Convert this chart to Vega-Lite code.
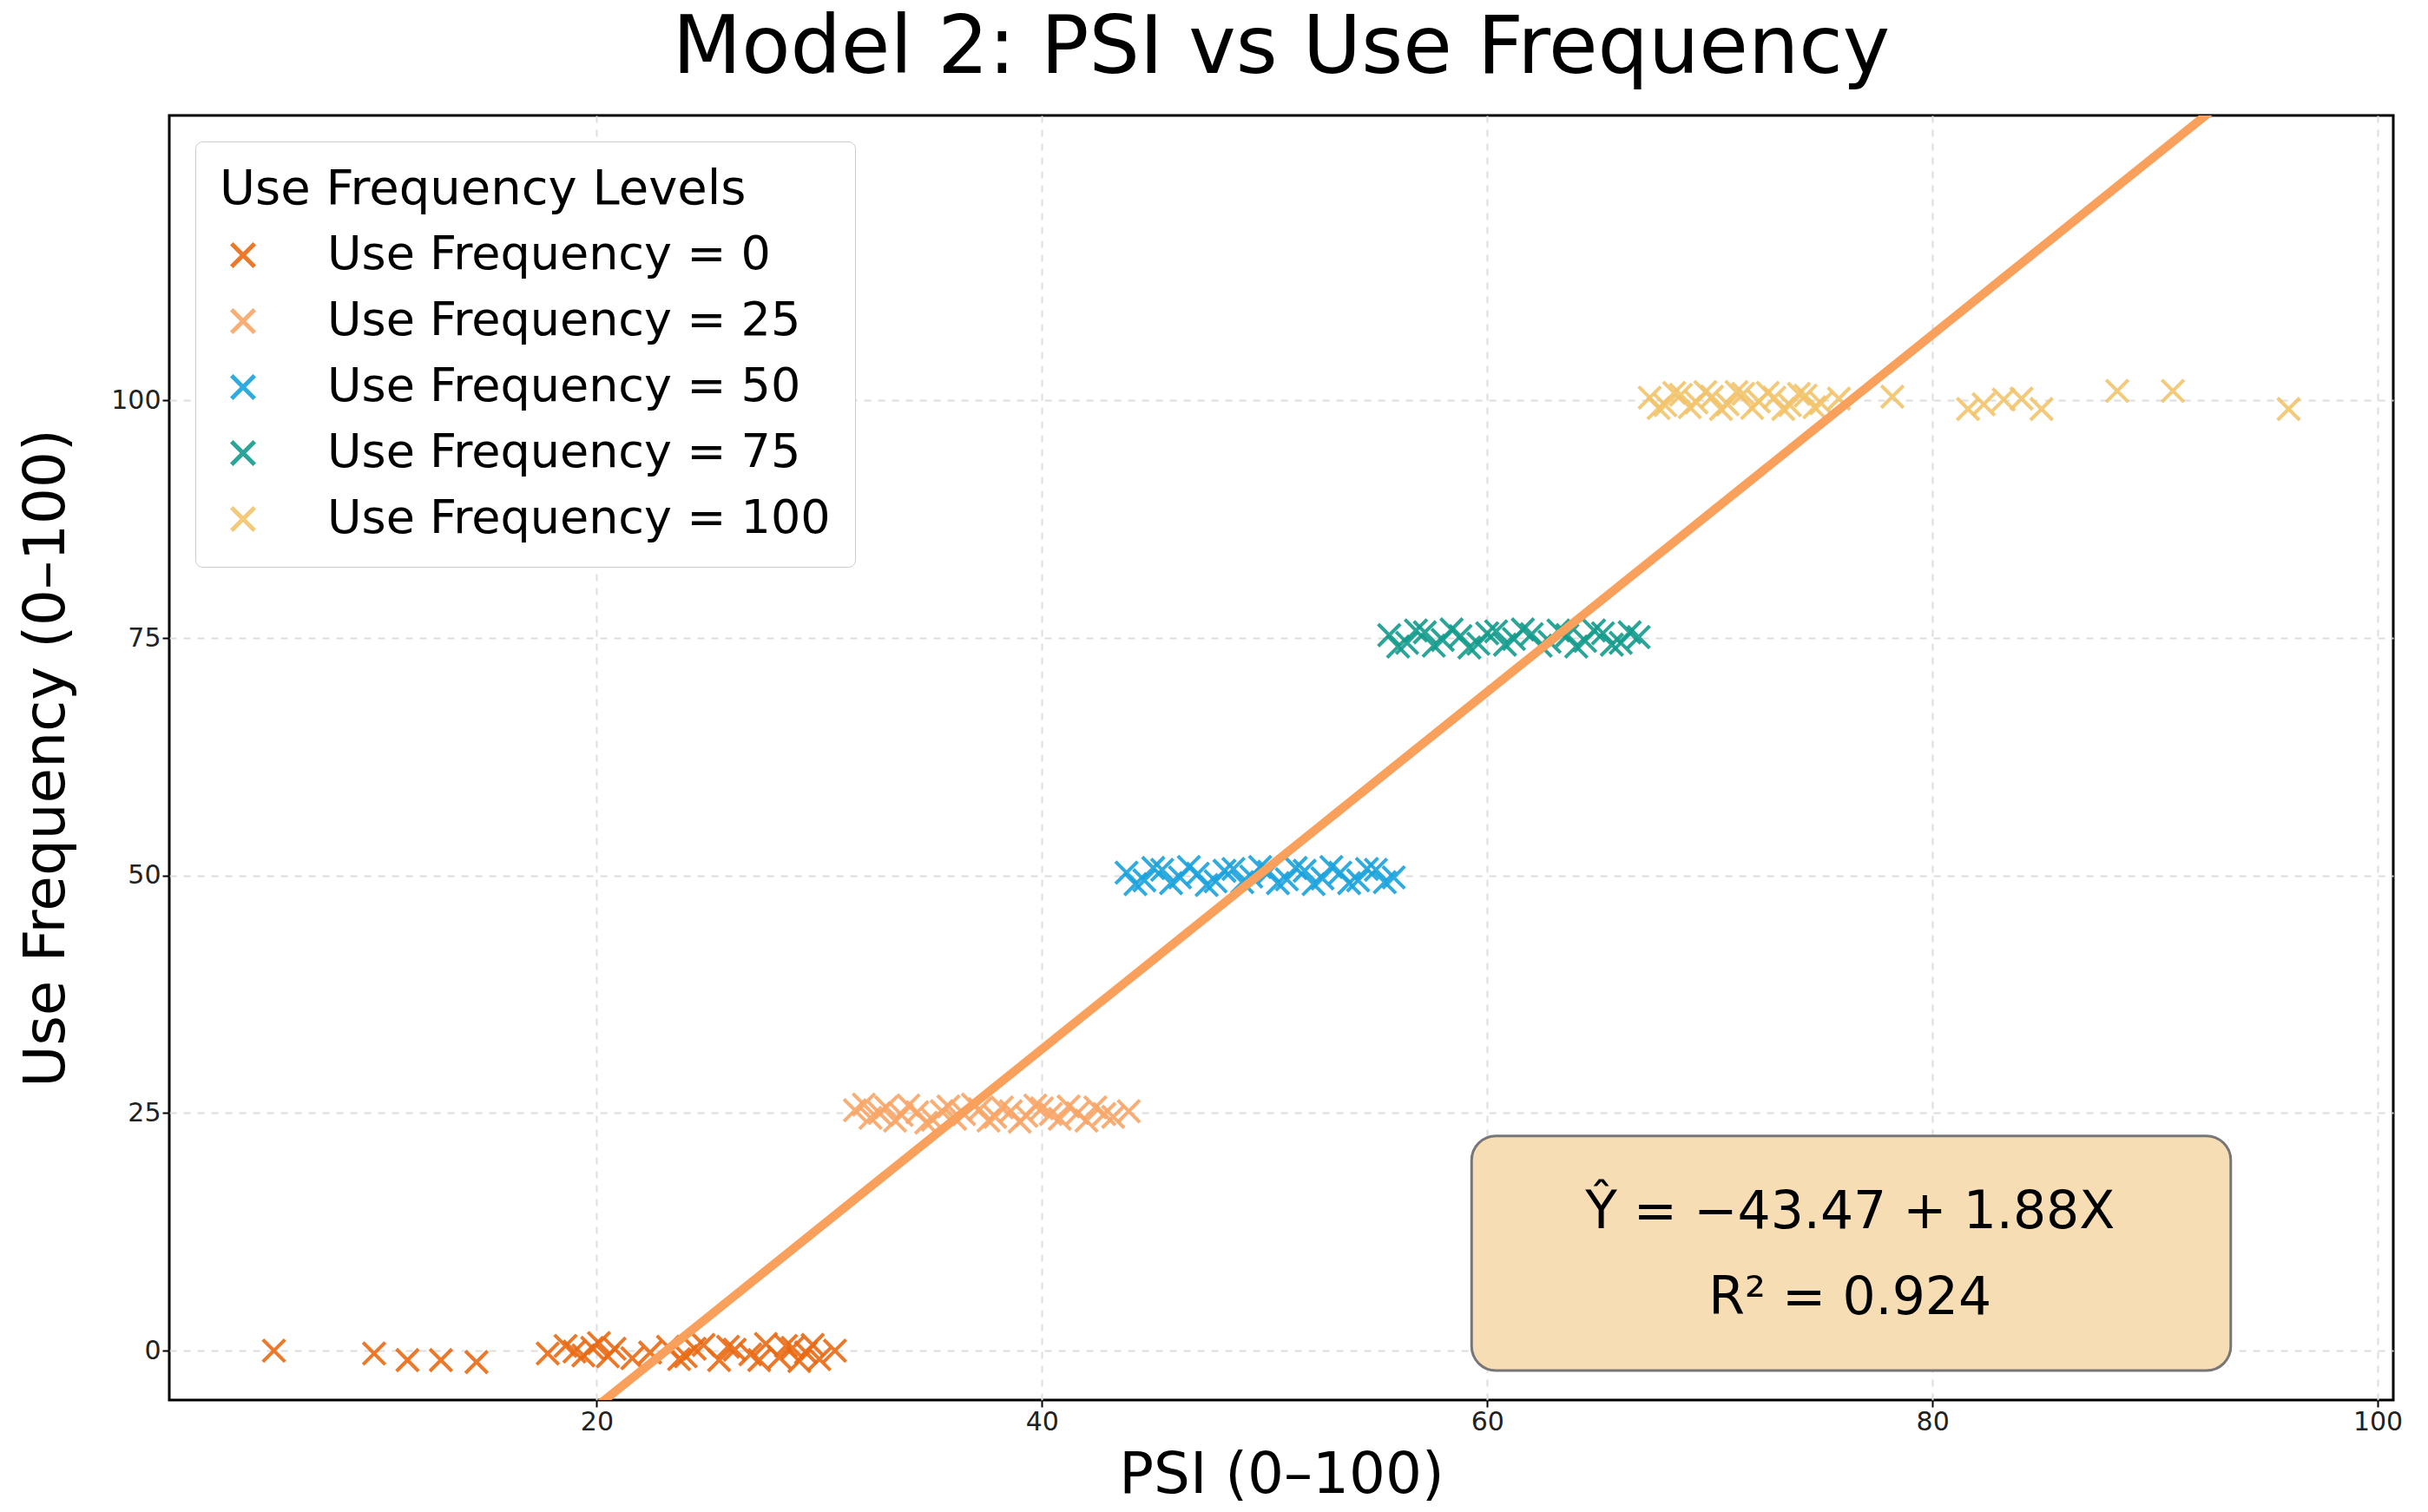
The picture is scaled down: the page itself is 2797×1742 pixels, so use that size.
{
  "$schema": "https://vega.github.io/schema/vega-lite/v6.json",
  "autosize": {"type": "fit", "contains": "padding"},
  "width": 2797,
  "height": 1742,
  "padding": {"left": 20, "right": 30, "top": 10, "bottom": 10},
  "background": "white",
  "title": {"text": "Model 2: PSI vs Use Frequency", "fontSize": 92, "font": "DejaVu Sans", "fontWeight": "normal", "color": "black", "offset": 30},
  "config": {
    "view": {"stroke": "black", "strokeWidth": 3},
    "axis": {"labelFont": "DejaVu Sans", "titleFont": "DejaVu Sans", "labelFontSize": 30, "titleFontSize": 66, "titleFontWeight": "normal", "labelColor": "#222", "titleColor": "black", "gridDash": [8, 8], "gridColor": "#dddddd", "gridWidth": 2, "domain": false, "tickColor": "black", "tickSize": 8, "tickWidth": 2}
  },
  "data": {"values": [
    {"psi": 5.5, "uf": 0, "g": "Use Frequency = 0"},
    {"psi": 10, "uf": -0.3, "g": "Use Frequency = 0"},
    {"psi": 11.5, "uf": -1, "g": "Use Frequency = 0"},
    {"psi": 13, "uf": -1, "g": "Use Frequency = 0"},
    {"psi": 14.6, "uf": -1.2, "g": "Use Frequency = 0"},
    {"psi": 17.8, "uf": -0.3, "g": "Use Frequency = 0"},
    {"psi": 18.6, "uf": 0.5, "g": "Use Frequency = 0"},
    {"psi": 19.0, "uf": -0.1, "g": "Use Frequency = 0"},
    {"psi": 19.4, "uf": -0.5, "g": "Use Frequency = 0"},
    {"psi": 19.8, "uf": 0.3, "g": "Use Frequency = 0"},
    {"psi": 20.1, "uf": 0.8, "g": "Use Frequency = 0"},
    {"psi": 20.5, "uf": -0.6, "g": "Use Frequency = 0"},
    {"psi": 20.8, "uf": 0.2, "g": "Use Frequency = 0"},
    {"psi": 21.6, "uf": -0.8, "g": "Use Frequency = 0"},
    {"psi": 22.4, "uf": -0.2, "g": "Use Frequency = 0"},
    {"psi": 23.2, "uf": 0.4, "g": "Use Frequency = 0"},
    {"psi": 23.7, "uf": -0.9, "g": "Use Frequency = 0"},
    {"psi": 24.0, "uf": -0.6, "g": "Use Frequency = 0"},
    {"psi": 24.4, "uf": 0.2, "g": "Use Frequency = 0"},
    {"psi": 24.8, "uf": 0.6, "g": "Use Frequency = 0"},
    {"psi": 25.5, "uf": -1, "g": "Use Frequency = 0"},
    {"psi": 25.9, "uf": 0.4, "g": "Use Frequency = 0"},
    {"psi": 26.2, "uf": 0.1, "g": "Use Frequency = 0"},
    {"psi": 26.9, "uf": -0.4, "g": "Use Frequency = 0"},
    {"psi": 27.3, "uf": -1, "g": "Use Frequency = 0"},
    {"psi": 27.6, "uf": 0.7, "g": "Use Frequency = 0"},
    {"psi": 28.2, "uf": -0.7, "g": "Use Frequency = 0"},
    {"psi": 28.5, "uf": 0.5, "g": "Use Frequency = 0"},
    {"psi": 28.8, "uf": 0.3, "g": "Use Frequency = 0"},
    {"psi": 29.1, "uf": -1.1, "g": "Use Frequency = 0"},
    {"psi": 29.4, "uf": -0.2, "g": "Use Frequency = 0"},
    {"psi": 29.7, "uf": 0.6, "g": "Use Frequency = 0"},
    {"psi": 30.0, "uf": -0.9, "g": "Use Frequency = 0"},
    {"psi": 30.7, "uf": 0, "g": "Use Frequency = 0"},
    {"psi": 31.6, "uf": 25.3, "g": "Use Frequency = 25"},
    {"psi": 32.0, "uf": 25.9, "g": "Use Frequency = 25"},
    {"psi": 32.3, "uf": 24.5, "g": "Use Frequency = 25"},
    {"psi": 32.7, "uf": 25.0, "g": "Use Frequency = 25"},
    {"psi": 33.0, "uf": 25.6, "g": "Use Frequency = 25"},
    {"psi": 33.4, "uf": 24.2, "g": "Use Frequency = 25"},
    {"psi": 33.7, "uf": 24.8, "g": "Use Frequency = 25"},
    {"psi": 34.0, "uf": 25.8, "g": "Use Frequency = 25"},
    {"psi": 34.4, "uf": 25.1, "g": "Use Frequency = 25"},
    {"psi": 34.8, "uf": 24.0, "g": "Use Frequency = 25"},
    {"psi": 35.1, "uf": 24.3, "g": "Use Frequency = 25"},
    {"psi": 35.5, "uf": 25.2, "g": "Use Frequency = 25"},
    {"psi": 35.8, "uf": 25.7, "g": "Use Frequency = 25"},
    {"psi": 36.1, "uf": 24.4, "g": "Use Frequency = 25"},
    {"psi": 36.5, "uf": 24.9, "g": "Use Frequency = 25"},
    {"psi": 36.9, "uf": 25.9, "g": "Use Frequency = 25"},
    {"psi": 37.2, "uf": 25.4, "g": "Use Frequency = 25"},
    {"psi": 37.6, "uf": 24.2, "g": "Use Frequency = 25"},
    {"psi": 37.9, "uf": 24.6, "g": "Use Frequency = 25"},
    {"psi": 38.2, "uf": 25.6, "g": "Use Frequency = 25"},
    {"psi": 38.6, "uf": 25.2, "g": "Use Frequency = 25"},
    {"psi": 39.0, "uf": 24.1, "g": "Use Frequency = 25"},
    {"psi": 39.3, "uf": 24.7, "g": "Use Frequency = 25"},
    {"psi": 39.7, "uf": 25.8, "g": "Use Frequency = 25"},
    {"psi": 40.0, "uf": 25.5, "g": "Use Frequency = 25"},
    {"psi": 40.4, "uf": 24.9, "g": "Use Frequency = 25"},
    {"psi": 40.8, "uf": 24.4, "g": "Use Frequency = 25"},
    {"psi": 41.2, "uf": 25.7, "g": "Use Frequency = 25"},
    {"psi": 41.6, "uf": 25.0, "g": "Use Frequency = 25"},
    {"psi": 42.0, "uf": 24.2, "g": "Use Frequency = 25"},
    {"psi": 42.4, "uf": 25.6, "g": "Use Frequency = 25"},
    {"psi": 42.8, "uf": 24.9, "g": "Use Frequency = 25"},
    {"psi": 43.2, "uf": 24.6, "g": "Use Frequency = 25"},
    {"psi": 43.9, "uf": 25.2, "g": "Use Frequency = 25"},
    {"psi": 43.8, "uf": 50.3, "g": "Use Frequency = 50"},
    {"psi": 44.2, "uf": 49.1, "g": "Use Frequency = 50"},
    {"psi": 44.6, "uf": 49.5, "g": "Use Frequency = 50"},
    {"psi": 45.0, "uf": 50.8, "g": "Use Frequency = 50"},
    {"psi": 45.4, "uf": 50.6, "g": "Use Frequency = 50"},
    {"psi": 45.8, "uf": 49.2, "g": "Use Frequency = 50"},
    {"psi": 46.2, "uf": 49.8, "g": "Use Frequency = 50"},
    {"psi": 46.6, "uf": 50.9, "g": "Use Frequency = 50"},
    {"psi": 47.0, "uf": 50.2, "g": "Use Frequency = 50"},
    {"psi": 47.4, "uf": 49.0, "g": "Use Frequency = 50"},
    {"psi": 47.8, "uf": 49.4, "g": "Use Frequency = 50"},
    {"psi": 48.2, "uf": 50.5, "g": "Use Frequency = 50"},
    {"psi": 48.6, "uf": 50.7, "g": "Use Frequency = 50"},
    {"psi": 49.0, "uf": 49.3, "g": "Use Frequency = 50"},
    {"psi": 49.4, "uf": 49.9, "g": "Use Frequency = 50"},
    {"psi": 49.8, "uf": 50.9, "g": "Use Frequency = 50"},
    {"psi": 50.2, "uf": 50.4, "g": "Use Frequency = 50"},
    {"psi": 50.6, "uf": 49.2, "g": "Use Frequency = 50"},
    {"psi": 51.0, "uf": 49.6, "g": "Use Frequency = 50"},
    {"psi": 51.4, "uf": 50.8, "g": "Use Frequency = 50"},
    {"psi": 51.8, "uf": 50.5, "g": "Use Frequency = 50"},
    {"psi": 52.2, "uf": 49.1, "g": "Use Frequency = 50"},
    {"psi": 52.6, "uf": 49.7, "g": "Use Frequency = 50"},
    {"psi": 53.0, "uf": 50.9, "g": "Use Frequency = 50"},
    {"psi": 53.4, "uf": 50.3, "g": "Use Frequency = 50"},
    {"psi": 53.8, "uf": 49.2, "g": "Use Frequency = 50"},
    {"psi": 54.2, "uf": 49.5, "g": "Use Frequency = 50"},
    {"psi": 54.6, "uf": 50.7, "g": "Use Frequency = 50"},
    {"psi": 55.0, "uf": 50.6, "g": "Use Frequency = 50"},
    {"psi": 55.4, "uf": 49.3, "g": "Use Frequency = 50"},
    {"psi": 55.8, "uf": 49.8, "g": "Use Frequency = 50"},
    {"psi": 55.6, "uf": 75.3, "g": "Use Frequency = 75"},
    {"psi": 56.0, "uf": 74.1, "g": "Use Frequency = 75"},
    {"psi": 56.4, "uf": 74.5, "g": "Use Frequency = 75"},
    {"psi": 56.8, "uf": 75.8, "g": "Use Frequency = 75"},
    {"psi": 57.2, "uf": 75.6, "g": "Use Frequency = 75"},
    {"psi": 57.6, "uf": 74.2, "g": "Use Frequency = 75"},
    {"psi": 58.0, "uf": 74.8, "g": "Use Frequency = 75"},
    {"psi": 58.4, "uf": 75.9, "g": "Use Frequency = 75"},
    {"psi": 58.8, "uf": 75.2, "g": "Use Frequency = 75"},
    {"psi": 59.2, "uf": 74.0, "g": "Use Frequency = 75"},
    {"psi": 59.6, "uf": 74.4, "g": "Use Frequency = 75"},
    {"psi": 60.0, "uf": 75.5, "g": "Use Frequency = 75"},
    {"psi": 60.4, "uf": 75.7, "g": "Use Frequency = 75"},
    {"psi": 60.8, "uf": 74.3, "g": "Use Frequency = 75"},
    {"psi": 61.2, "uf": 74.9, "g": "Use Frequency = 75"},
    {"psi": 61.6, "uf": 75.9, "g": "Use Frequency = 75"},
    {"psi": 62.0, "uf": 75.4, "g": "Use Frequency = 75"},
    {"psi": 62.4, "uf": 74.2, "g": "Use Frequency = 75"},
    {"psi": 62.8, "uf": 74.6, "g": "Use Frequency = 75"},
    {"psi": 63.2, "uf": 75.8, "g": "Use Frequency = 75"},
    {"psi": 63.6, "uf": 75.3, "g": "Use Frequency = 75"},
    {"psi": 64.0, "uf": 74.1, "g": "Use Frequency = 75"},
    {"psi": 64.4, "uf": 74.7, "g": "Use Frequency = 75"},
    {"psi": 64.8, "uf": 75.8, "g": "Use Frequency = 75"},
    {"psi": 65.2, "uf": 75.5, "g": "Use Frequency = 75"},
    {"psi": 65.6, "uf": 74.3, "g": "Use Frequency = 75"},
    {"psi": 66.0, "uf": 74.5, "g": "Use Frequency = 75"},
    {"psi": 66.4, "uf": 75.6, "g": "Use Frequency = 75"},
    {"psi": 66.8, "uf": 75.1, "g": "Use Frequency = 75"},
    {"psi": 67.3, "uf": 100.3, "g": "Use Frequency = 100"},
    {"psi": 67.7, "uf": 99.2, "g": "Use Frequency = 100"},
    {"psi": 68.0, "uf": 99.5, "g": "Use Frequency = 100"},
    {"psi": 68.4, "uf": 100.8, "g": "Use Frequency = 100"},
    {"psi": 68.7, "uf": 100.6, "g": "Use Frequency = 100"},
    {"psi": 69.1, "uf": 99.3, "g": "Use Frequency = 100"},
    {"psi": 69.4, "uf": 99.8, "g": "Use Frequency = 100"},
    {"psi": 69.8, "uf": 100.9, "g": "Use Frequency = 100"},
    {"psi": 70.1, "uf": 100.4, "g": "Use Frequency = 100"},
    {"psi": 70.5, "uf": 99.1, "g": "Use Frequency = 100"},
    {"psi": 70.8, "uf": 99.6, "g": "Use Frequency = 100"},
    {"psi": 71.2, "uf": 100.9, "g": "Use Frequency = 100"},
    {"psi": 71.5, "uf": 100.7, "g": "Use Frequency = 100"},
    {"psi": 71.9, "uf": 99.2, "g": "Use Frequency = 100"},
    {"psi": 72.2, "uf": 99.9, "g": "Use Frequency = 100"},
    {"psi": 72.6, "uf": 100.8, "g": "Use Frequency = 100"},
    {"psi": 72.9, "uf": 100.3, "g": "Use Frequency = 100"},
    {"psi": 73.3, "uf": 99.1, "g": "Use Frequency = 100"},
    {"psi": 73.6, "uf": 99.5, "g": "Use Frequency = 100"},
    {"psi": 74.0, "uf": 100.7, "g": "Use Frequency = 100"},
    {"psi": 74.3, "uf": 100.5, "g": "Use Frequency = 100"},
    {"psi": 74.7, "uf": 99.3, "g": "Use Frequency = 100"},
    {"psi": 75.0, "uf": 99.7, "g": "Use Frequency = 100"},
    {"psi": 75.8, "uf": 100.2, "g": "Use Frequency = 100"},
    {"psi": 78.2, "uf": 100.4, "g": "Use Frequency = 100"},
    {"psi": 81.6, "uf": 99.1, "g": "Use Frequency = 100"},
    {"psi": 82.3, "uf": 99.6, "g": "Use Frequency = 100"},
    {"psi": 83.2, "uf": 100.1, "g": "Use Frequency = 100"},
    {"psi": 84.0, "uf": 100.2, "g": "Use Frequency = 100"},
    {"psi": 84.9, "uf": 99.1, "g": "Use Frequency = 100"},
    {"psi": 88.3, "uf": 101, "g": "Use Frequency = 100"},
    {"psi": 90.8, "uf": 101, "g": "Use Frequency = 100"},
    {"psi": 96.0, "uf": 99.1, "g": "Use Frequency = 100"}
  ]},
  "layer": [
    {
      "mark": {"type": "point", "shape": "M-1,-1L1,1M1,-1L-1,1", "filled": false, "strokeWidth": 4, "size": 650, "opacity": 0.9},
      "encoding": {
        "x": {"field": "psi", "type": "quantitative", "title": "PSI (0–100)", "scale": {"domain": [0.8, 100.7], "nice": false, "zero": false}, "axis": {"values": [20, 40, 60, 80, 100], "titlePadding": 14}},
        "y": {"field": "uf", "type": "quantitative", "title": "Use Frequency (0–100)", "scale": {"domain": [-5.2, 130], "nice": false, "zero": false}, "axis": {"values": [0, 25, 50, 75, 100], "titlePadding": 40}},
        "color": {"field": "g", "type": "nominal", "scale": {
          "domain": ["Use Frequency = 0", "Use Frequency = 25", "Use Frequency = 50", "Use Frequency = 75", "Use Frequency = 100"],
          "range": ["#ea6a14", "#f9a668", "#1aa3dd", "#139c8c", "#f2c46c"]},
          "legend": {"title": "Use Frequency Levels", "orient": "top-left", "offset": 30, "titleFontSize": 56, "titleFont": "DejaVu Sans", "titleFontWeight": "normal", "titleColor": "black", "titleLimit": 0, "labelLimit": 0, "labelFontSize": 54, "labelFont": "DejaVu Sans", "labelColor": "black", "symbolType": "M-1,-1L1,1M1,-1L-1,1", "symbolSize": 700, "symbolStrokeWidth": 5, "rowPadding": 22, "labelOffset": 70, "titlePadding": 20, "padding": 28, "fillColor": "white", "strokeColor": "#cccccc", "cornerRadius": 8}}
      }
    },
    {
      "data": {"values": [{"psi": 0, "uf": -43.47}, {"psi": 100, "uf": 144.53}]},
      "mark": {"type": "line", "color": "#f9a05c", "strokeWidth": 10, "clip": true},
      "encoding": {"x": {"field": "psi", "type": "quantitative"}, "y": {"field": "uf", "type": "quantitative"}}
    },
    {
      "data": {"values": [{"x1": 59.3, "x2": 93.4, "y1": -2.1, "y2": 22.6}]},
      "mark": {"type": "rect", "fill": "#f7ddb4", "stroke": "#777777", "strokeWidth": 3, "cornerRadius": 28},
      "encoding": {"x": {"field": "x1", "type": "quantitative"}, "x2": {"field": "x2"}, "y": {"field": "y1", "type": "quantitative"}, "y2": {"field": "y2"}}
    },
    {
      "data": {"values": [{"x": 76.3, "y": 14.5, "t": "Ŷ = −43.47 + 1.88X"}, {"x": 76.3, "y": 5.5, "t": "R² = 0.924"}]},
      "mark": {"type": "text", "fontSize": 60, "font": "DejaVu Sans", "color": "black"},
      "encoding": {"x": {"field": "x", "type": "quantitative"}, "y": {"field": "y", "type": "quantitative"}, "text": {"field": "t"}}
    }
  ]
}
